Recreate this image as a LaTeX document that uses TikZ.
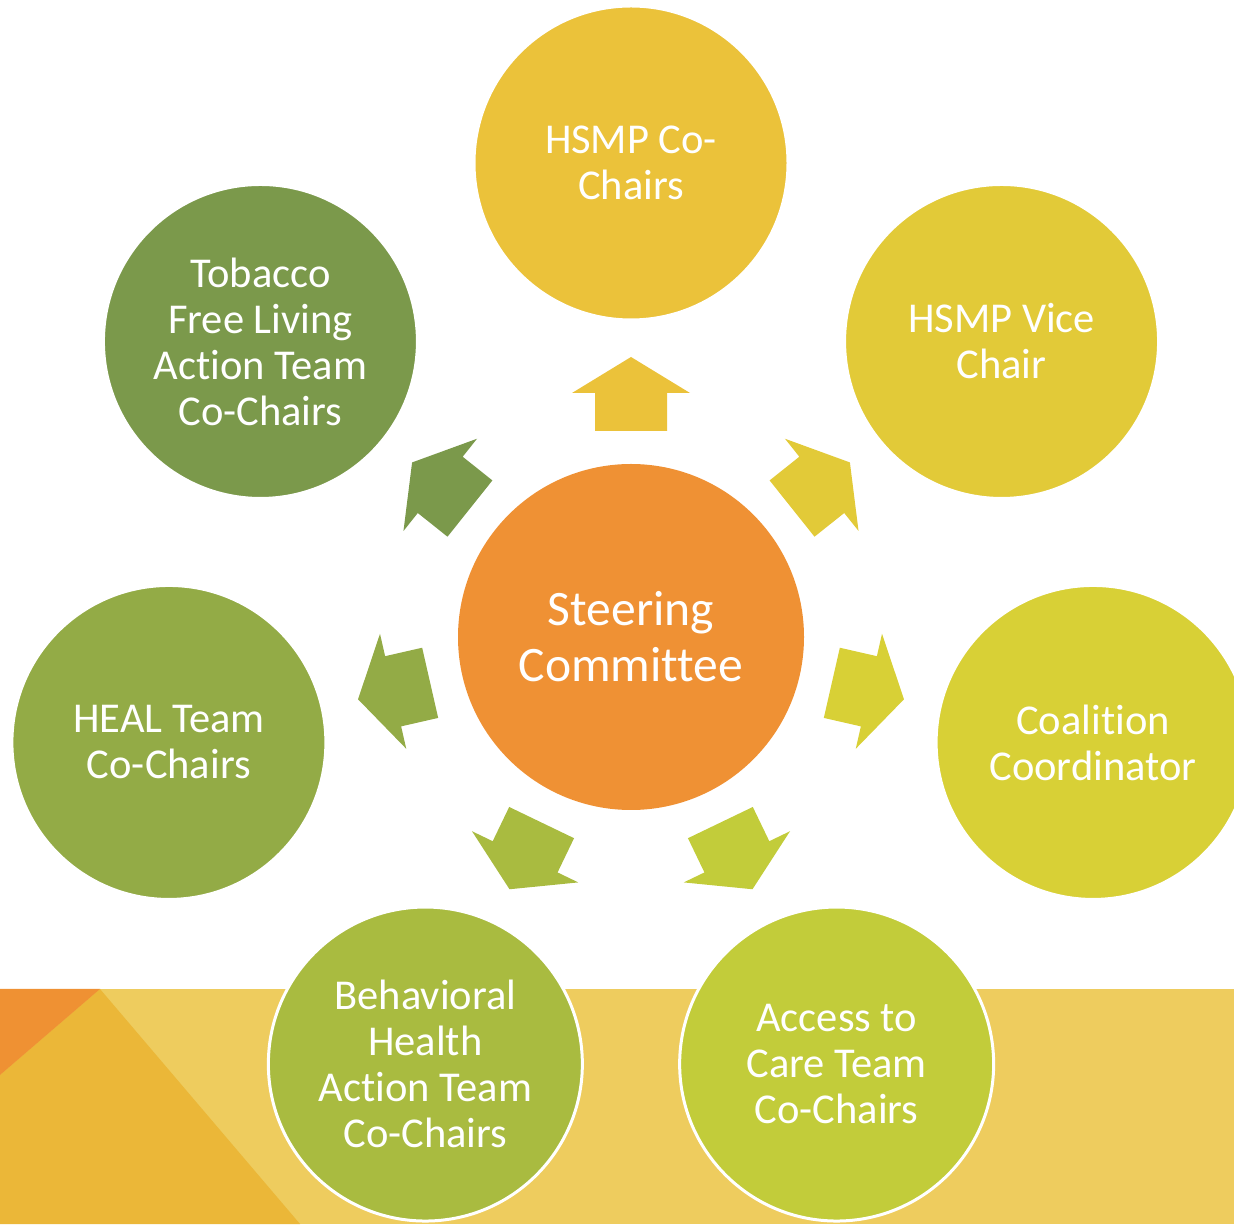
\documentclass[tikz,border=0pt]{standalone}
\usepackage{fontspec}
\setmainfont{Carlito}[RawFeature={-liga;-clig;-dlig}]
\definecolor{corange}{HTML}{EF9134}
\definecolor{chsmp}{HTML}{EBC23A}
\definecolor{cvice}{HTML}{E2CA38}
\definecolor{ccoord}{HTML}{D8D036}
\definecolor{caccess}{HTML}{C2CC3A}
\definecolor{cbehav}{HTML}{A9BB40}
\definecolor{cheal}{HTML}{93AB46}
\definecolor{ctobacco}{HTML}{7B994B}
\definecolor{bandlight}{HTML}{EECC5E}
\definecolor{banddark}{HTML}{EBB738}
\definecolor{bandorange}{HTML}{EF9133}
\begin{document}
\begin{tikzpicture}[x=1pt,y=1pt,
  bubble/.style={circle, minimum size=314pt, inner sep=0pt, draw=white, line width=3pt, text=white, align=center, font=\fontsize{42.5}{46}\selectfont},
  hub/.style={circle, minimum size=346pt, inner sep=0pt, fill=corange, text=white, align=center, font=\fontsize{49.6}{56}\selectfont},
  blockarrow/.style={draw=none}]
\useasboundingbox (0,0) rectangle (1234,1224);
\clip (0,0) rectangle (1234,1224);
% background band
\fill[bandlight] (0,0) rectangle (1234,235);
\fill[banddark] (100,235) -- (300,0) -- (0,0) -- (0,149) -- cycle;
\fill[bandorange] (0,235) -- (100,235) -- (0,149) -- cycle;
% hub
\node[hub] (c) at (631,587) {Steering\\Committee};
% outer bubbles
\node[bubble, fill=chsmp]    (hsmp)    at ([shift={(90:474)}]c.center) {HSMP Co-\\Chairs};
\node[bubble, fill=cvice]    (vice)    at ([shift={(38.571:474)}]c.center) {HSMP Vice\\Chair};
\node[bubble, fill=ccoord]   (coord)   at ([shift={(-12.857:474)}]c.center) {Coalition\\Coordinator};
\node[bubble, fill=caccess]  (access)  at ([shift={(-64.286:474)}]c.center) {Access to\\Care Team\\Co-Chairs};
\node[bubble, fill=cbehav]   (behav)   at ([shift={(-115.714:474)}]c.center) {Behavioral\\Health\\Action Team\\Co-Chairs};
\node[bubble, fill=cheal]    (heal)    at ([shift={(-167.143:474)}]c.center) {HEAL Team\\Co-Chairs};
\node[bubble, fill=ctobacco] (tobacco) at ([shift={(141.429:474)}]c.center) {Tobacco\\Free Living\\Action Team\\Co-Chairs};
% block arrows
\foreach \ang/\col in {90/chsmp, 38.571/cvice, -12.857/ccoord, -64.286/caccess, -115.714/cbehav, -167.143/cheal, 141.429/ctobacco}{
  \fill[blockarrow, \col, shift={(c.center)}, rotate=\ang-90]
    (0,280) -- (59,244) -- (36,244) -- (36,206) -- (-36,206) -- (-36,244) -- (-59,244) -- cycle;
}
\end{tikzpicture}
\end{document}
